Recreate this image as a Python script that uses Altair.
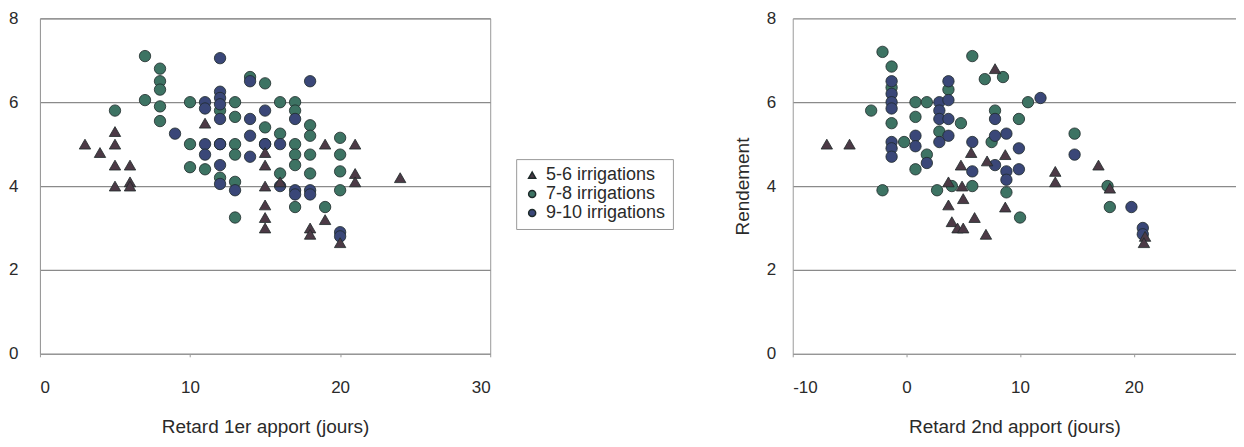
import altair as alt
import pandas as pd

G56 = "5-6 irrigations"
G78 = "7-8 irrigations"
G910 = "9-10 irrigations"
groups = [G56, G78, G910]

# ---- Panel 1 : retard 1er apport ----
p1_tri_x = [3, 4, 5, 5, 5, 5, 6, 6, 6, 11, 15, 15, 15, 15, 15, 15, 16, 18, 18, 19, 19, 20, 21, 21, 21, 24]
p1_tri_y = [5.0, 4.8, 5.3, 5.0, 4.5, 4.0, 4.5, 4.1, 4.0, 5.5, 4.8, 4.5, 4.0, 3.55, 3.25, 3.0, 4.1, 3.0, 2.85, 5.0, 3.2, 2.65, 5.0, 4.3, 4.1, 4.2]

p1_c78_x = [7, 8, 8, 8, 7, 8, 8, 5, 14, 15, 10, 13, 12, 13, 16, 17, 17, 18, 15, 16, 18, 10, 12, 13, 15, 17, 20, 13, 17, 18, 20, 11, 12, 13, 16, 17, 18, 17, 19, 20, 20, 13, 10]
p1_c78_y = [7.1, 6.8, 6.5, 6.3, 6.05, 5.9, 5.55, 5.8, 6.6, 6.45, 6.0, 6.0, 5.8, 5.65, 6.0, 6.0, 5.8, 5.45, 5.4, 5.25, 5.2, 5.0, 5.0, 5.0, 5.0, 5.0, 5.15, 4.75, 4.75, 4.75, 4.75, 4.4, 4.2, 4.1, 4.3, 4.5, 4.3, 3.5, 3.5, 4.35, 3.9, 3.25, 4.45]

p1_c910_x = [9, 12, 14, 18, 12, 12, 11, 12, 11, 12, 14, 15, 17, 14, 11, 12, 16, 11, 14, 12, 13, 16, 17, 17, 18, 18, 20, 20, 15, 12]
p1_c910_y = [5.25, 7.05, 6.5, 6.5, 6.25, 6.1, 6.0, 5.95, 5.85, 5.6, 5.6, 5.8, 5.6, 5.2, 5.0, 5.0, 5.0, 4.75, 4.7, 4.5, 3.9, 4.0, 3.9, 3.8, 3.9, 3.8, 2.9, 2.8, 5.0, 4.05]

# ---- Panel 2 : retard 2nd apport ----
p2_tri_x = [-7, -5, 3.7, 3.7, 4.0, 4.5, 5.0, 4.8, 4.9, 5.0, 6.0, 5.7, 7.0, 7.1, 7.8, 8.7, 8.7, 13.1, 13.1, 16.9, 17.9, 21.0, 20.9]
p2_tri_y = [5.0, 5.0, 4.1, 3.55, 3.15, 3.0, 3.0, 4.5, 4.0, 3.7, 3.25, 4.8, 2.85, 4.6, 6.8, 4.75, 3.5, 4.35, 4.1, 4.5, 3.95, 2.8, 2.65]

p2_c78_x = [-2.1, -1.3, -1.3, -3.1, -1.3, -2.1, 0.8, 1.8, 0.8, 0.8, 1.8, 2.9, 3.7, 4.8, 5.8, 6.9, 7.8, 8.5, 9.9, 10.7, 14.8, 17.7, 17.9, 2.7, 4.0, 5.8, 8.8, 10.0, -0.2, 7.5]
p2_c78_y = [7.2, 6.85, 6.35, 5.8, 5.5, 3.9, 6.0, 6.0, 5.65, 4.4, 4.75, 5.3, 6.3, 5.5, 7.1, 6.55, 5.8, 6.6, 5.6, 6.0, 5.25, 4.0, 3.5, 3.9, 4.0, 4.0, 3.85, 3.25, 5.05, 5.05]

p2_c910_x = [-1.3, -1.3, -1.3, -1.3, -1.3, -1.3, -1.3, 0.8, 0.8, 1.8, 2.9, 2.9, 2.9, 2.9, 3.7, 3.7, 3.7, 3.7, 5.8, 5.8, 7.8, 7.8, 8.8, 8.8, 8.8, 9.9, 9.9, 11.8, 14.8, 19.8, 20.8, 20.8, 7.8]
p2_c910_y = [6.5, 6.2, 6.0, 5.85, 5.05, 4.9, 4.7, 5.2, 4.95, 4.55, 6.0, 5.8, 5.6, 5.05, 6.5, 6.05, 5.6, 5.2, 5.05, 4.35, 5.6, 5.2, 5.25, 4.35, 4.15, 4.9, 4.4, 6.1, 4.75, 3.5, 3.0, 2.85, 4.5]

x1_ticks = [0, 10, 20, 30]
x2_ticks = [-10, 0, 10, 20]
y_ticks = [0, 2, 4, 6, 8]


def frame(xs, ys, g):
    return pd.DataFrame({"x": xs, "y": ys, "groupe": [g] * len(xs)})


df1 = pd.concat([frame(p1_c78_x, p1_c78_y, G78), frame(p1_c910_x, p1_c910_y, G910),
                 frame(p1_tri_x, p1_tri_y, G56)])
df2 = pd.concat([frame(p2_c78_x, p2_c78_y, G78), frame(p2_c910_x, p2_c910_y, G910),
                 frame(p2_tri_x, p2_tri_y, G56)])

FONT = "Liberation Sans"
TXT = "#2a2a2a"

shape_scale = alt.Scale(domain=groups, range=["triangle-up", "circle", "circle"])
color_scale = alt.Scale(domain=groups, range=["#4c3a46", "#3d7363", "#3a4778"])


def y_axis(title, extent, label_pad):
    return alt.Axis(values=y_ticks, grid=True, gridColor="#8a8a8a", gridWidth=1.2,
                    domainColor="#9a9a9a", ticks=False, labelPadding=label_pad,
                    labelFontSize=17, labelColor=TXT, labelFont=FONT,
                    title=title, titleFont=FONT, titleFontSize=19, titleFontWeight="normal",
                    titleColor=TXT, titlePadding=13, minExtent=extent, maxExtent=extent)


def x_axis(title, ticks):
    return alt.Axis(values=ticks, grid=False, domainColor="#9a9a9a", ticks=True,
                    tickColor="#9a9a9a", tickSize=3, labelPadding=23, labelFontSize=17,
                    labelColor=TXT, labelFont=FONT, labelExpr="toString(datum.value)",
                    title=title, titleFont=FONT,
                    titleFontSize=19, titleFontWeight="normal", titleColor=TXT,
                    titlePadding=22)


def legend_def():
    return alt.Legend(orient="none", legendX=477, legendY=141, title=None,
                      labelFont=FONT, labelFontSize=18, labelColor=TXT,
                      symbolSize=50, strokeColor="#9a9a9a", fillColor="white",
                      padding=7, rowPadding=1, labelOffset=5)


left = alt.Chart(df1).mark_point(filled=True, opacity=1, size=130, stroke="#1e2a2a", strokeWidth=0.8).encode(
    x=alt.X("x:Q", scale=alt.Scale(domain=[0, 30], nice=False), axis=x_axis("Retard 1er apport (jours)", x1_ticks)),
    y=alt.Y("y:Q", scale=alt.Scale(domain=[0, 8], nice=False), axis=y_axis(None, 30, 22)),
    shape=alt.Shape("groupe:N", scale=shape_scale, legend=legend_def()),
    color=alt.Color("groupe:N", scale=color_scale, legend=legend_def()),
).properties(width=451, height=336, view=alt.ViewBackground(stroke="#9a9a9a"))

right = alt.Chart(df2).mark_point(filled=True, opacity=1, size=130, stroke="#1e2a2a", strokeWidth=0.8).encode(
    x=alt.X("x:Q", scale=alt.Scale(domain=[-10, 29], nice=False), axis=x_axis("Retard 2nd apport (jours)", x2_ticks)),
    y=alt.Y("y:Q", scale=alt.Scale(domain=[0, 8], nice=False), axis=y_axis("Rendement", 27, 17)),
    shape=alt.Shape("groupe:N", scale=shape_scale, legend=None),
    color=alt.Color("groupe:N", scale=color_scale, legend=None),
).properties(width=444, height=336, view=alt.ViewBackground(stroke=None))

chart = alt.hconcat(left, right, spacing=303, bounds="flush").resolve_scale(
    shape="independent", color="independent"
).resolve_legend(shape="independent", color="independent").properties(
    padding={"left": 0, "top": 0, "right": 0, "bottom": 0}
).configure(background="white")

chart.save("out.html", embed_options={"renderer": "svg", "actions": False})
